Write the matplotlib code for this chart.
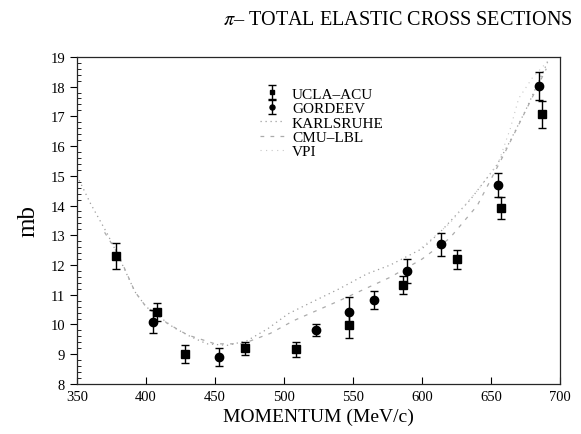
import numpy as np
import matplotlib.pyplot as plt
from matplotlib.ticker import MultipleLocator

plt.rcParams['font.family'] = ['Liberation Serif', 'DejaVu Serif']
plt.rcParams['mathtext.fontset'] = 'stix'

# measured total elastic cross sections (mb)
ucla_p = [378, 408, 428, 472, 509, 547, 586, 625, 657, 687]
ucla_s = [12.30, 10.41, 9.00, 9.20, 9.16, 9.99, 11.34, 12.19, 13.91, 17.07]
ucla_e = [0.45, 0.30, 0.30, 0.22, 0.25, 0.45, 0.30, 0.31, 0.37, 0.46]

gord_p = [405, 453, 523, 547, 565, 589, 614, 655, 685]
gord_s = [10.10, 8.91, 9.81, 10.42, 10.82, 11.80, 12.70, 14.70, 18.02]
gord_e = [0.40, 0.30, 0.19, 0.50, 0.30, 0.40, 0.39, 0.40, 0.48]

# phase shift predictions
karl_p = [350, 360, 372, 380, 392, 400, 410, 420, 432, 444, 459, 473, 488, 503,
          520, 540, 560, 577, 600, 613, 635, 654, 663, 675, 691]
karl_s = [15.0, 14.05, 13.05, 12.3, 11.1, 10.6, 10.25, 9.9, 9.6, 9.35, 9.3, 9.45,
          9.85, 10.36, 10.75, 11.2, 11.7, 12.0, 12.55, 13.1, 14.2, 15.35, 16.1,
          17.2, 18.83]

cmu_p = [370, 380, 392, 400, 410, 415, 430, 450, 470, 490, 507, 540, 577, 600,
         620, 640, 659, 677, 690]
cmu_s = [13.1, 12.35, 11.1, 10.6, 10.3, 10.05, 9.65, 9.35, 9.35, 9.7, 10.13,
         10.8, 11.59, 12.2, 12.9, 14.0, 15.69, 17.37, 18.6]

vpi_p = [600, 620, 640, 655, 664, 670, 680, 692]
vpi_s = [12.6, 13.4, 14.5, 15.4, 16.6, 17.6, 18.3, 18.9]

fig = plt.figure(figsize=(5.81, 4.35), dpi=100)
ax = fig.add_axes([0.1325, 0.115, 0.8315, 0.752])

ax.plot(karl_p, karl_s, color='0.62', lw=0.9, ls=(0, (1, 3)), label='KARLSRUHE')
ax.plot(cmu_p, cmu_s, color='0.67', lw=0.9, ls=(0, (3, 5)), label='CMU\u2013LBL')
ax.plot(vpi_p, vpi_s, color='0.78', lw=0.8, ls=(0, (1, 4)), label='VPI')

ax.errorbar(ucla_p, ucla_s, yerr=ucla_e, fmt='s', color='k', ms=6,
            elinewidth=1, capsize=3, capthick=1, label='UCLA\u2013ACU')
ax.errorbar(gord_p, gord_s, yerr=gord_e, fmt='o', color='k', ms=6,
            elinewidth=1, capsize=3, capthick=1, label='GORDEEV')

ax.set_xlim(350, 700)
ax.set_ylim(8, 19)
ax.xaxis.set_major_locator(MultipleLocator(50))
ax.yaxis.set_major_locator(MultipleLocator(1))
ax.yaxis.set_minor_locator(MultipleLocator(0.2))
ax.tick_params(axis='x', direction='in', length=5, labelsize=10.5, pad=4)
ax.tick_params(axis='y', which='major', direction='out', length=5, labelsize=10.5)
ax.tick_params(axis='y', which='minor', direction='in', length=3)
for s in ax.spines.values():
    s.set_color('0.15')
    s.set_linewidth(0.9)

ax.set_xlabel('MOMENTUM (MeV/c)', fontsize=14, labelpad=4)
ax.set_ylabel('mb', fontsize=18, labelpad=8)

fig.text(0.684, 0.952, r'$\pi$' + '\u2013 TOTAL ELASTIC CROSS SECTIONS',
         ha='center', va='center', fontsize=14.5)

h, l = ax.get_legend_handles_labels()
order = [3, 4, 0, 1, 2]
ax.legend([h[i] for i in order], [l[i] for i in order], loc='upper left',
          bbox_to_anchor=(0.35, 0.95), frameon=False, fontsize=11,
          handlelength=1.6, handletextpad=0.5, labelspacing=0.05,
          markerscale=0.6)

fig.savefig('out.png', dpi=100)
